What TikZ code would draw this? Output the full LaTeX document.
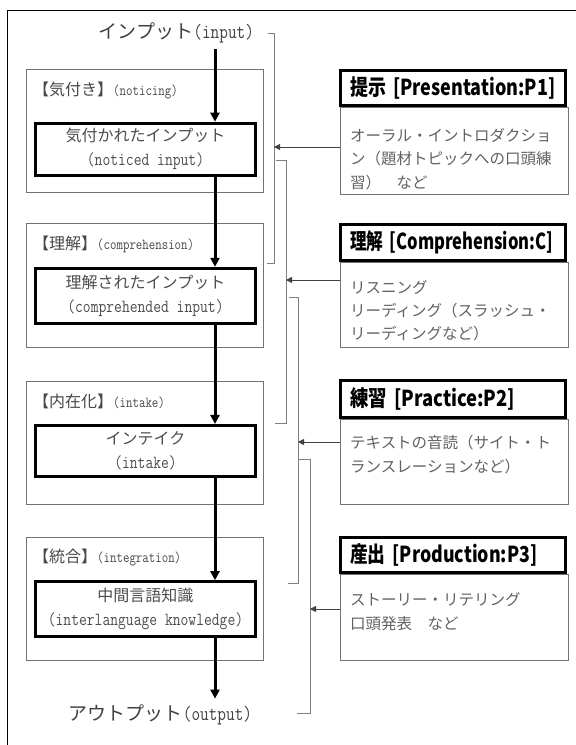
\documentclass[tikz,border=0pt]{standalone}
\usepackage{fontspec}
\usetikzlibrary{arrows.meta}
\newfontfamily\jp{Noto Sans CJK JP}
% Latin in a narrowed Latin Modern Mono: #1 = size, #2 = text
\newcommand\mylat[2]{\scalebox{0.82}[1]{\fontsize{#1}{#1}\selectfont\ttfamily #2}}
% header text fitted to a width: #1 = width, #2 = Japanese, #3 = Latin
\newcommand\hdrtxt[3]{\resizebox{#1}{\height}{#2\hspace{0.4em}#3}}
\begin{document}
\begin{tikzpicture}[x=1pt,y=-1pt,
  frame/.style={draw=black, line width=0.9pt},
  outerbox/.style={draw=black!55, line width=1pt, inner sep=0pt, minimum width=237pt},
  innerbox/.style={draw=black, line width=3pt, inner sep=0pt, minimum width=220pt, align=center, text=black!70, font=\jp\fontsize{16}{24}\selectfont},
  hdrbox/.style={draw=black, line width=3pt, inner sep=0pt, minimum width=225pt},
  bodybox/.style={draw=black!55, line width=1pt, inner sep=0pt, minimum width=228pt},
  hdrtext/.style={anchor=west, inner sep=0pt, text=black, font=\jp\bfseries\fontsize{22}{26}\selectfont},
  bodytext/.style={anchor=west, inner sep=0pt, text=black!62, font=\jp\fontsize{15.5}{20}\selectfont},
  lbltext/.style={anchor=west, inner sep=0pt, text=black!72, font=\jp\fontsize{16}{18}\selectfont},
  iotext/.style={inner sep=0pt, text=black!75, font=\jp\fontsize{19}{22}\selectfont},
  mainarrow/.style={draw=black, line width=3pt, -{Triangle[width=9pt,length=9pt]}},
  smallarrow/.style={draw=black!75, line width=0.8pt, -{Triangle[width=6pt,length=6pt]}},
  brk/.style={draw=black!50, line width=1pt}
]
\useasboundingbox (0,0) rectangle (576,745);
% outer frame
\draw[frame] (576,10) -- (7,10) -- (7,745);

% input / output
\node[iotext] (in) at (176.5,33) {インプット\mylat{20.5}{(input)}};
\node[iotext] (out) at (160.5,715) {アウトプット\mylat{20.5}{(output)}};

% left stage boxes
\node[outerbox, minimum height=123pt] (o1) at (144.5,130.5) {};
\node[outerbox, minimum height=124pt] (o2) at (144.5,285) {};
\node[outerbox, minimum height=123pt] (o3) at (144.5,442.5) {};
\node[outerbox, minimum height=123pt] (o4) at (144.5,598.5) {};

\node[lbltext] (l1) at (33,90) {【気付き】\mylat{15.3}{(noticing)}};
\node[lbltext] (l2) at (33,244) {【理解】\mylat{15.3}{(comprehension)}};
\node[lbltext] (l3) at (33,401) {【内在化】\mylat{15.3}{(intake)}};
\node[lbltext] (l4) at (33,557) {【統合】\mylat{15.3}{(integration)}};

\node[innerbox, minimum height=52pt] (i1) at (145.5,149.2) {気付かれたインプット\\\mylat{18.5}{(noticed input)}};
\node[innerbox, minimum height=55pt] (i2) at (145.5,295.8) {理解されたインプット\\\mylat{18.5}{(comprehended input)}};
\node[innerbox, minimum height=51.5pt] (i3) at (145.5,451.2) {インテイク\\\mylat{18.5}{(intake)}};
\node[innerbox, minimum height=55pt] (i4) at (145.5,609.2) {中間言語知識\\\mylat{18.5}{(interlanguage knowledge)}};

% main flow
\coordinate (ax) at (215,0);
\draw[mainarrow] ([yshift=-6pt]in.south -| ax) -- (i1.north -| ax);
\draw[mainarrow] (i1.south -| ax) -- (i2.north -| ax);
\draw[mainarrow] (i2.south -| ax) -- (i3.north -| ax);
\draw[mainarrow] (i3.south -| ax) -- (i4.north -| ax);
\draw[mainarrow] (i4.south -| ax) -- ([yshift=6pt]out.north -| ax);

% right boxes: bodies
\node[bodybox, minimum height=87pt] (b1) at (454,150.5) {};
\node[bodybox, minimum height=85pt] (b2) at (454,304.5) {};
\node[bodybox, minimum height=85pt] (b3) at (454,461.5) {};
\node[bodybox, minimum height=86pt] (b4) at (454,617) {};
% headers
\node[hdrbox, minimum height=35.3pt] (h1) at (453,88.2) {};
\node[hdrbox, minimum height=36.6pt] (h2) at (453,242.5) {};
\node[hdrbox, minimum height=36.7pt] (h3) at (453,399.2) {};
\node[hdrbox, minimum height=35pt] (h4) at (453,555) {};

\node[hdrtext] (t1) at (350,88.2) {\hdrtxt{205pt}{提示}{[Presentation:P1]}};
\node[hdrtext] (t2) at (350,242.5) {\hdrtxt{203pt}{理解}{[Comprehension:C]}};
\node[hdrtext] (t3) at (350,399.2) {\hdrtxt{165pt}{練習}{[Practice:P2]}};
\node[hdrtext] (t4) at (350,555) {\hdrtxt{187pt}{産出}{[Production:P3]}};

\node[bodytext] (p1a) at (350,135) {オーラル・イントロダクショ};
\node[bodytext] (p1b) at (350,159) {ン（題材トピックへの口頭練};
\node[bodytext] (p1c) at (350,183) {習）　など};
\node[bodytext] (c1a) at (350,287.5) {リスニング};
\node[bodytext] (c1b) at (350,311) {リーディング（スラッシュ・};
\node[bodytext] (c1c) at (350,333.5) {リーディングなど）};
\node[bodytext] (p2a) at (350,443) {テキストの音読（サイト・ト};
\node[bodytext] (p2b) at (350,466.5) {ランスレーションなど）};
\node[bodytext] (p3a) at (350,600) {ストーリー・リテリング};
\node[bodytext] (p3b) at (350,623.3) {口頭発表　など};

% brackets
\coordinate (k1) at (274,147);
\coordinate (k2) at (286,280);
\coordinate (k3) at (298,442);
\coordinate (k4) at (310,609);
\draw[brk] (268,33) -- (274,33) -- (274,263) -- (267,263);
\draw[brk] (276,160) -- (286,160) -- (286,423) -- (275,423);
\draw[brk] (289,297) -- (298,297) -- (298,583) -- (288,583);
\draw[brk] (299,459) -- (310,459) -- (310,713) -- (297,713);

% arrows from methods to brackets
\draw[smallarrow] (k1 -| b1.west) -- (k1);
\draw[smallarrow] (k2 -| b2.west) -- (k2);
\draw[smallarrow] (k3 -| b3.west) -- (k3);
\draw[smallarrow] (k4 -| b4.west) -- (k4);
\end{tikzpicture}
\end{document}
